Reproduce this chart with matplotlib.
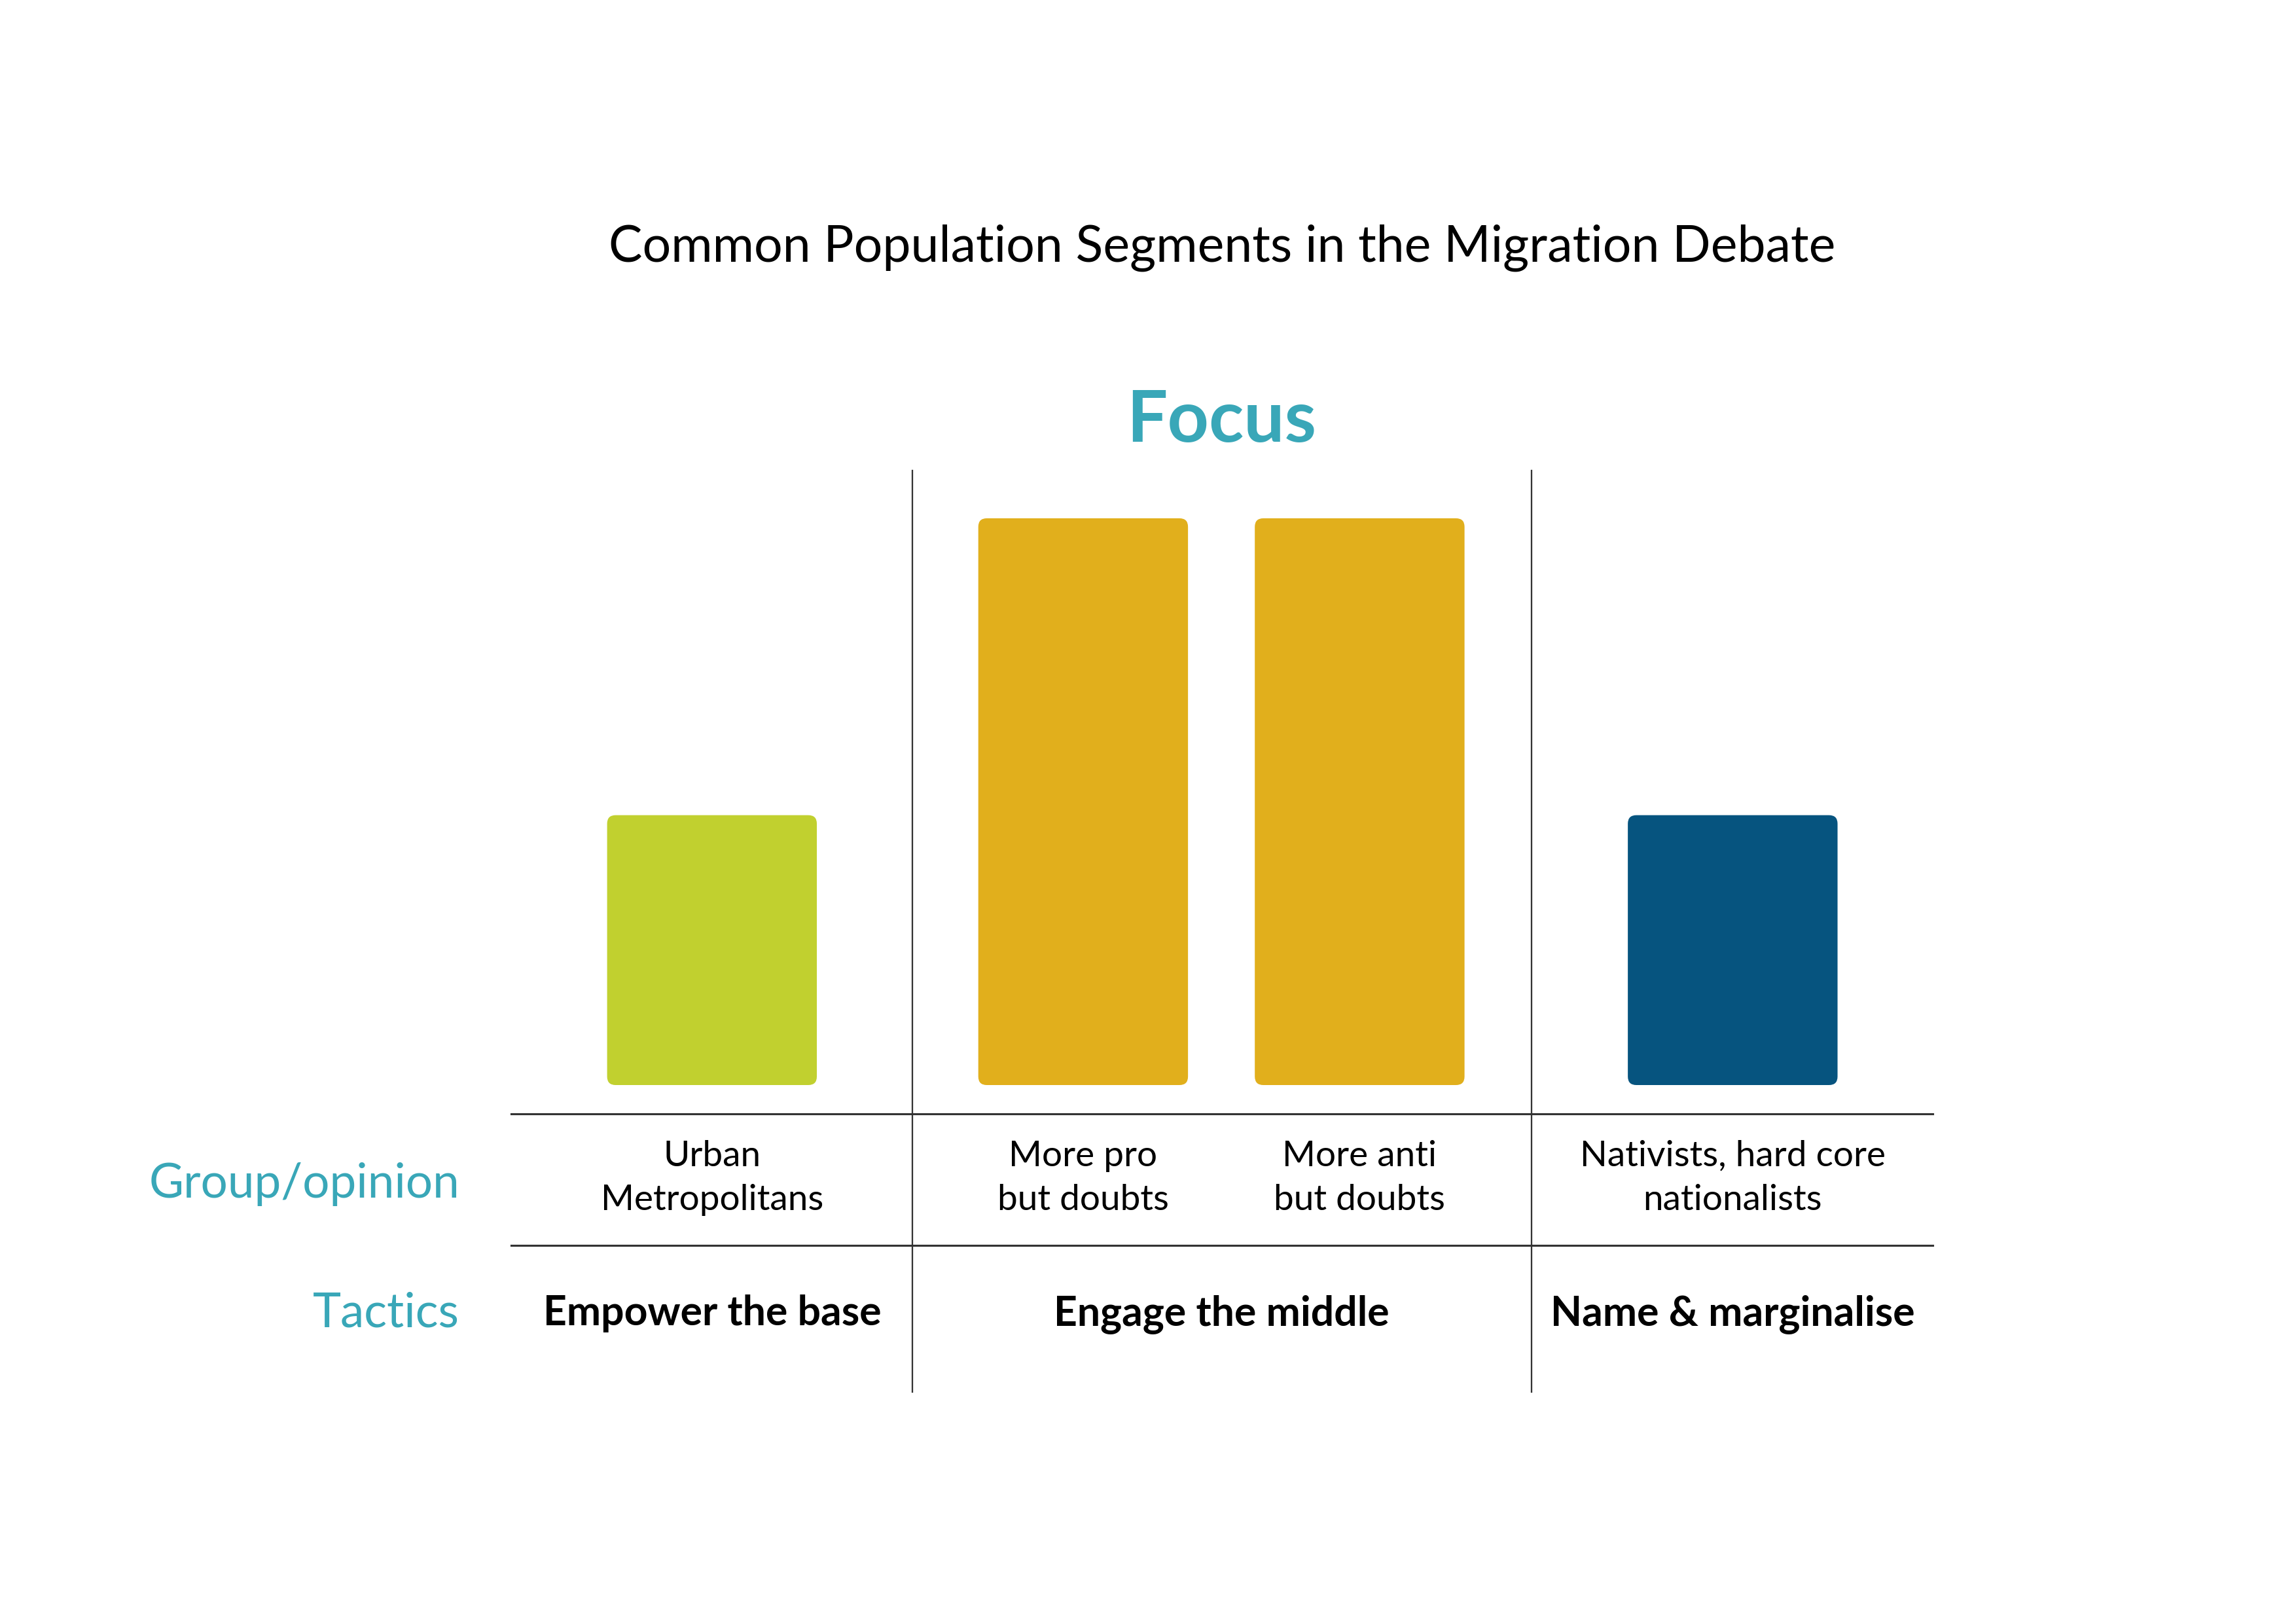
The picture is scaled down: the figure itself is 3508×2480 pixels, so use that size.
import matplotlib
matplotlib.use("Agg")
import matplotlib.pyplot as plt
from matplotlib.patches import FancyBboxPatch
from matplotlib.lines import Line2D

plt.rcParams['font.family'] = ['Lato', 'DejaVu Sans']

# ---- data ----
title = "Common Population Segments in the Migration Debate"
focus_label = "Focus"
segments = ["Urban\nMetropolitans", "More pro\nbut doubts", "More anti\nbut doubts",
            "Nativists, hard core\nnationalists"]
values = [2.0, 4.2, 4.2, 2.0]
tactics = ["Empower the base", "Engage the middle", "Name & marginalise"]
row_labels = ["Group/opinion", "Tactics"]

# ---- layout / style ----
bar_x = [0.0, 1.0, 1.745, 2.75]
bar_width = 0.565
bar_colors = ["#C1D02F", "#E1AF1C", "#E1AF1C", "#06547F"]
teal = "#39A7B8"
line_col = "#333333"

W, H, DPI = 3508, 2480, 300
fig = plt.figure(figsize=(W / DPI, H / DPI), dpi=DPI)
fig.patch.set_facecolor("white")

def fx(px):
    return px / W

def fy(py):
    return 1 - py / H

# overlay axes in pixel coordinates (y downward)
ov = fig.add_axes([0, 0, 1, 1])
ov.set_xlim(0, W)
ov.set_ylim(H, 0)
ov.axis("off")

# bar axes
ax = fig.add_axes([fx(781), fy(1658), (2953 - 781) / W, (1658 - 792) / H])
ax.set_xlim(-0.541, 3.289)
ax.set_ylim(0, max(values))
ax.axis("off")

fig.canvas.draw()
# isotropic rounding
p0 = ax.transData.transform((0, 0))
p1 = ax.transData.transform((1, 1))
xu_per_px = 1 / (p1[0] - p0[0])
yu_per_px = 1 / (p1[1] - p0[1])
aspect = yu_per_px / xu_per_px
r_px = 13
for x, v, c in zip(bar_x, values, bar_colors):
    patch = FancyBboxPatch((x - bar_width / 2, 0), bar_width, v,
                           boxstyle=f"round,pad=0,rounding_size={r_px * xu_per_px}",
                           mutation_aspect=aspect, facecolor=c, edgecolor="none",
                           clip_on=False)
    ax.add_patch(patch)

# grid lines
for y in [1702, 1903]:
    ov.add_line(Line2D([781, 2953], [y, y], color=line_col, lw=0.75))
for x in [1394, 2340]:
    ov.add_line(Line2D([x, x], [719, 2127], color=line_col, lw=0.55))

# title and focus
ov.text(1867, 400, title, ha="center", va="baseline", fontsize=18.5, color="black")
ov.text(1866, 675, focus_label, ha="center", va="baseline", fontsize=26.5,
        fontweight="bold", color=teal)

# row labels
ov.text(702, 1830, row_labels[0], ha="right", va="baseline", fontsize=17.5, color=teal)
ov.text(702, 2027, row_labels[1], ha="right", va="baseline", fontsize=17.5, color=teal)

# segment labels
seg_cx = [1088, 1655, 2077, 2647]
for cx, s in zip(seg_cx, segments):
    ov.text(cx, 1800, s, ha="center", va="center", fontsize=13.2, color="black",
            linespacing=1.45)

# tactics
tac_cx = [1088, 1866, 2647]
for cx, t in zip(tac_cx, tactics):
    ov.text(cx, 2025, t, ha="center", va="baseline", fontsize=15.0,
            fontweight="bold", color="black")

fig.savefig("out.png", dpi=DPI, facecolor="white")
